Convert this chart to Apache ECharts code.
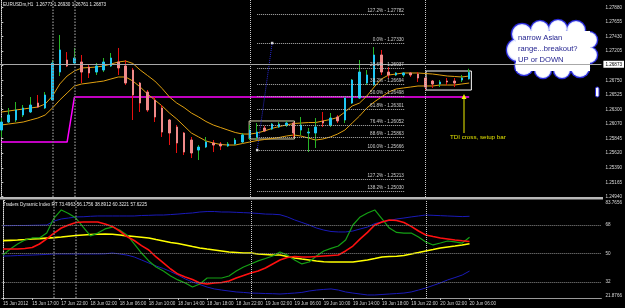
<!DOCTYPE html>
<html>
<head>
<meta charset="utf-8">
<script src="https://cdn.jsdelivr.net/npm/echarts@6/dist/echarts.min.js"></script>
<style>
html,body{margin:0;padding:0;background:#000;}
#chart{width:625px;height:308px;}
</style>
</head>
<body>
<div id="chart"></div>
<script>
// EURUSDm H1 bars, index 0 = 15 Jun 13:00 ... 64 = 20 Jun 06:00
var opens=[1.25977,1.26102,1.26133,1.26211,1.26258,1.26397,1.26320,1.26444,1.26879,1.27066,
 1.27019,1.27035,1.26957,1.26879,1.26910,1.26973,1.27035,1.26973,1.26910,1.26708,
 1.26568,1.26444,1.26320,1.26133,1.26024,1.25931,1.25822,1.25666,1.25713,1.25776,
 1.25760,1.25729,1.25760,1.25791,1.25853,1.25869,1.26009,1.25993,1.26024,1.26055,
 1.26086,1.25977,1.25931,1.25931,1.26118,1.26055,1.26180,1.26133,1.26397,1.26475,
 1.26708,1.26677,1.27144,1.26879,1.26833,1.26833,1.26864,1.26848,1.26786,1.26739,
 1.26693,1.26739,1.26739,1.26755,1.26773];
var closes=[1.26102,1.26211,1.26289,1.26320,1.26366,1.26335,1.26522,1.27019,1.27222,1.26973,
 1.27097,1.26879,1.26864,1.26973,1.27035,1.27097,1.26942,1.26708,1.26522,1.26397,
 1.26289,1.26180,1.25946,1.25931,1.25776,1.25635,1.25620,1.25713,1.25791,1.25744,
 1.25729,1.25760,1.25822,1.25900,1.25977,1.25946,1.25962,1.26071,1.26071,1.26086,
 1.25931,1.26055,1.25946,1.26024,1.26086,1.26164,1.26118,1.26475,1.26755,1.26879,
 1.26833,1.27144,1.26879,1.26833,1.26864,1.26864,1.26833,1.26786,1.26646,1.26693,
 1.26724,1.26724,1.26708,1.26786,1.26873];
var lows=[1.25869,1.26086,1.26102,1.26180,1.26242,1.26320,1.26304,1.26428,1.26817,1.26957,
 1.26988,1.26708,1.26786,1.26833,1.26879,1.26957,1.26833,1.26677,1.26133,1.26258,
 1.26258,1.26102,1.25869,1.25744,1.25620,1.25589,1.25542,1.25511,1.25698,1.25635,
 1.25666,1.25713,1.25744,1.25776,1.25822,1.25822,1.25946,1.25977,1.26009,1.26024,
 1.25853,1.25900,1.25635,1.25698,1.26024,1.26024,1.26086,1.26086,1.26382,1.26460,
 1.26677,1.26662,1.26833,1.26786,1.26817,1.26802,1.26802,1.26724,1.26599,1.26631,
 1.26646,1.26677,1.26646,1.26724,1.26761];
var highs=[1.26164,1.26320,1.26413,1.26366,1.26491,1.26522,1.26568,1.27066,1.27455,1.27190,
 1.27253,1.27144,1.26988,1.27019,1.27097,1.27175,1.27253,1.27066,1.26942,1.26724,
 1.26599,1.26491,1.26366,1.26149,1.26055,1.25946,1.25869,1.25744,1.25869,1.25822,
 1.25791,1.25791,1.25853,1.25931,1.26055,1.26086,1.26040,1.26086,1.26102,1.26118,
 1.26102,1.26180,1.26009,1.26164,1.26258,1.26242,1.26211,1.26491,1.26770,1.27066,
 1.26910,1.27268,1.27222,1.26957,1.26879,1.26879,1.26879,1.26879,1.26802,1.26755,
 1.26755,1.26786,1.26786,1.26833,1.26930];

// two moving averages (orange)
var maUpper=[1.26257,1.26273,1.26289,1.26304,1.26320,1.26335,1.26382,1.26506,1.26693,1.26817,
 1.26895,1.26942,1.26949,1.26957,1.26973,1.27004,1.27035,1.27050,1.27012,1.26910,
 1.26825,1.26739,1.26623,1.26491,1.26397,1.26327,1.26242,1.26180,1.26110,1.26055,
 1.26016,1.25977,1.25939,1.25915,1.25915,1.25931,1.25962,1.26001,1.26032,1.26055,
 1.26079,1.26086,1.26094,1.26094,1.26118,1.26141,1.26172,1.26257,1.26351,1.26397,
 1.26506,1.26646,1.26771,1.26833,1.26848,1.26864,1.26864,1.26864,1.26856,1.26848,
 1.26833,1.26817,1.26810,1.26802,1.26817];
var maLower=[1.26055,1.26071,1.26086,1.26102,1.26133,1.26164,1.26211,1.26320,1.26444,1.26553,
 1.26662,1.26693,1.26708,1.26724,1.26739,1.26771,1.26802,1.26802,1.26739,1.26646,
 1.26537,1.26444,1.26351,1.26242,1.26149,1.26040,1.25931,1.25869,1.25807,1.25776,
 1.25752,1.25744,1.25744,1.25768,1.25791,1.25814,1.25830,1.25845,1.25861,1.25884,
 1.25900,1.25884,1.25853,1.25822,1.25838,1.25869,1.25915,1.25977,1.26086,1.26195,
 1.26320,1.26413,1.26491,1.26568,1.26615,1.26631,1.26646,1.26662,1.26662,1.26662,
 1.26677,1.26677,1.26677,1.26693,1.26708];

// magenta level line: [bar, price]
var levelLine=[[0,1.25790],[9,1.25790],[10,1.26490],[64,1.26490]];

// fibonacci levels
var fibNames=['127.2% - 1.27782','0.0% - 1.27330','23.6% - 1.26937','38.2% - 1.26694','50.0% - 1.26498',
 '61.8% - 1.26301','76.4% - 1.26052','88.6% - 1.25863','100.0% - 1.25666','127.2% - 1.25213','138.2% - 1.25030'];
var fibPrices=[1.27782,1.27330,1.26937,1.26694,1.26498,1.26301,1.26052,1.25863,1.25666,1.25213,1.25030];
var fibAnchors=[[35,1.25666],[37.05,1.27330]];
var bidPrice=1.26873;

var priceTicks=[1.24940,1.25165,1.25390,1.25620,1.25845,1.26070,1.26300,1.26525,1.26750,1.26980,1.27205,1.27430,1.27655,1.27880];

// Traders Dynamic Index
var tdiUpper=[67.6,67.6,67.7,67.7,67.8,67.9,68.0,70.5,71.8,72.4,73.1,73.2,73.5,73.7,73.7,73.7,73.7,73.7,73.7,74.0,
 74.1,74.3,74.3,74.6,74.9,75.3,75.6,76.2,76.5,76.5,76.2,76.2,76.0,75.8,75.6,75.3,74.9,74.8,74.5,73.1,
 71.2,69.6,68.0,66.1,64.8,63.9,63.6,63.6,64.2,65.5,66.7,68.9,69.9,70.8,71.8,72.4,73.1,73.7,74.3,74.1,
 73.9,73.7,73.5,73.3,73.5];
var tdiLower=[48.4,48.5,48.7,48.9,49.0,49.2,49.4,49.7,49.7,49.7,49.7,49.7,49.7,49.7,49.8,50.3,49.7,49.0,47.8,45.9,
 44.0,42.1,40.5,38.6,36.4,33.9,32.0,30.4,28.8,27.6,26.9,26.3,25.7,25.4,25.0,24.9,24.7,24.6,24.4,24.7,
 25.0,25.4,26.3,26.9,27.3,27.6,26.9,25.7,25.0,24.4,23.8,23.8,24.1,24.4,24.7,25.0,25.7,26.9,28.2,29.8,
 31.4,33.3,34.8,36.4,38.9];
var tdiBase=[58.1,58.3,58.5,58.8,59.2,59.4,59.7,60.0,60.4,60.9,61.4,61.7,62.0,62.2,62.3,62.2,61.7,61.1,60.7,60.3,
 59.8,58.8,57.9,56.9,56.3,55.4,54.4,53.5,52.8,52.2,51.6,50.9,50.6,50.3,50.3,49.7,49.4,49.0,49.0,48.1,
 47.2,46.5,45.9,45.3,44.8,44.6,44.6,44.6,44.6,45.3,45.9,46.8,47.8,48.1,48.3,48.7,49.7,50.6,51.6,52.5,
 53.5,54.1,54.7,55.4,56.2];
var tdiSignal=[52.8,52.8,52.8,53.2,53.8,56.0,59.2,62.9,66.1,68.0,69.6,69.9,69.9,69.9,68.6,67.1,64.2,60.7,58.2,55.0,
 52.2,47.8,44.0,40.2,37.0,35.2,33.6,31.4,30.7,31.4,31.7,32.6,34.5,36.1,37.7,38.9,40.8,43.4,45.9,47.5,
 48.1,47.8,47.8,48.1,48.4,48.7,49.0,51.6,54.7,59.2,63.3,68.0,69.9,71.2,70.8,69.6,67.1,64.2,61.7,60.7,
 59.8,59.2,58.5,58.0,57.6];
var tdiRsi=[49.0,52.8,56.0,58.5,59.8,59.8,62.9,72.4,77.5,75.3,72.4,66.7,61.1,62.9,65.5,66.7,64.8,61.7,56.0,50.3,
 45.3,41.5,38.9,35.8,33.3,31.4,28.8,30.7,34.5,34.5,34.5,35.8,38.9,41.5,43.4,45.3,46.8,48.4,50.9,49.0,
 45.9,43.4,44.6,48.4,51.6,53.2,54.7,58.5,68.0,73.1,75.6,77.5,71.8,66.1,63.3,62.9,62.9,60.4,57.3,55.4,
 56.6,57.9,57.3,56.6,60.3];
var tdiLevels=[68,50,32];
var tdiMin=21.88, tdiMax=83.79;

var timeTicks=[0,4,8,12,16,20,24,28,32,36,40,44,48,52,56,60,64];
var timeLabels=['15 Jun 2012','15 Jun 17:00','17 Jun 22:00','18 Jun 02:00','18 Jun 06:00','18 Jun 10:00',
 '18 Jun 14:00','18 Jun 18:00','18 Jun 22:00','19 Jun 02:00','19 Jun 06:00','19 Jun 10:00','19 Jun 14:00',
 '19 Jun 18:00','19 Jun 22:00','20 Jun 02:00','20 Jun 06:00'];
var daySeparators=[7,10,34,58];

function withIndex(arr){
    return arr.map(function(v,i){return [i,v];});
}

var chart=echarts.init(document.getElementById('chart'));
var FONT='Liberation Sans';
var xMin=-0.18, xMax=82.09;

var wickData=opens.map(function(o,i){return [i,o,closes[i],lows[i],highs[i]];});
var bodyData=opens.map(function(o,i){return [i,o,closes[i],Math.min(o,closes[i]),Math.max(o,closes[i])];});

var sepLines=daySeparators.map(function(x,k){
    return {xAxis:x,lineStyle:{color:k<2?'#7a7a7a':'#c8c8c8',width:k<2?1.5:1,type:'dotted'}};
});

var fibLines=fibPrices.map(function(p,k){
    return [{coord:[35,p],name:fibNames[k]},{coord:[55.2,p]}];
});

// cloud callout made of overlapping bubbles (outline first, white fill on top)
var bubbles=[[518,50,11],[522,34,10],[540,30,9],[558,29,9],[576,30,9],[589,40,8],[589,55,8],
    [580,68,9],[562,70,8],[543,70,8],[524,66,9]];
var cloudParts=[];
bubbles.forEach(function(b){
    cloudParts.push({type:'circle',shape:{cx:b[0],cy:b[1],r:b[2]+1.3},style:{fill:'#2a2ad8'}});
});
bubbles.forEach(function(b){
    cloudParts.push({type:'circle',shape:{cx:b[0],cy:b[1],r:b[2]},
        style:{fill:{type:'radial',x:0.5,y:0.5,r:0.5,colorStops:[{offset:0,color:'#ffffff'},{offset:0.82,color:'#ffffff'},{offset:1,color:'#c8d2ff'}]}}});
});
cloudParts.push({type:'rect',shape:{x:516,y:31,width:74,height:40},style:{fill:'#ffffff'}});

var option={
    backgroundColor:'#000',
    animation:false,
    grid:[
        {left:0,right:22,top:0,height:197},
        {left:0,right:22,top:200,height:98}
    ],
    xAxis:[
        {type:'value',gridIndex:0,min:xMin,max:xMax,show:false},
        {type:'value',gridIndex:1,min:xMin,max:xMax,
            axisLine:{show:true,lineStyle:{color:'#9a9a9a'}},
            axisTick:{show:true,customValues:timeTicks,length:2,lineStyle:{color:'#c0c0c0'}},
            splitLine:{show:false},
            axisLabel:{customValues:timeTicks,align:'left',margin:3,fontSize:4.6,fontFamily:FONT,color:'#d0d0d0',
                formatter:function(v){var k=timeTicks.indexOf(Math.round(v));return k<0?'':timeLabels[k];}}
        }
    ],
    yAxis:[
        {type:'value',gridIndex:0,position:'right',min:1.24936,max:1.27999,
            axisLine:{show:true,lineStyle:{color:'#e0e0e0',type:'dotted'}},
            axisTick:{show:true,customValues:priceTicks,length:2,lineStyle:{color:'#c0c0c0'}},
            splitLine:{show:false},
            axisLabel:{customValues:priceTicks,margin:4,fontSize:4.6,fontFamily:FONT,color:'#d8d8d8',
                formatter:function(v){return v.toFixed(5);}}
        },
        {type:'value',gridIndex:1,position:'right',min:tdiMin,max:tdiMax,
            axisLine:{show:true,lineStyle:{color:'#e0e0e0',type:'dotted'}},
            axisTick:{show:true,customValues:[tdiMin,32,50,68,tdiMax],length:2,lineStyle:{color:'#c0c0c0'}},
            splitLine:{show:false},
            axisLabel:{customValues:[tdiMin,32,50,68,tdiMax],margin:4,fontSize:4.6,fontFamily:FONT,color:'#d8d8d8',
                verticalAlignMaxLabel:'top',verticalAlignMinLabel:'bottom',
                formatter:function(v){
                    if(v===tdiMax) return '83.7656';
                    if(v===tdiMin) return '21.8766';
                    return String(v);
                }}
        }
    ],
    series:[
        {
            type:'line',xAxisIndex:0,yAxisIndex:0,data:levelLine,symbol:'none',
            lineStyle:{color:'#ff00ff',width:1.5},z:1,
            markLine:{silent:true,symbol:'none',label:{show:false},data:sepLines}
        },
        {
            type:'line',xAxisIndex:0,yAxisIndex:0,data:[],z:1,
            markLine:{silent:true,symbol:'none',
                lineStyle:{color:'#b4b4b4',type:'dotted',width:1},
                label:{show:true,position:'insideEndTop',distance:1,fontSize:4.6,fontFamily:FONT,color:'#d0d0d0',
                    formatter:function(p){return p.name;}},
                data:fibLines.concat([
                    [{coord:fibAnchors[0],lineStyle:{color:'#2a2ad0',type:'dotted'},label:{show:false}},
                     {coord:fibAnchors[1]}]
                ])
            }
        },
        {
            type:'line',xAxisIndex:0,yAxisIndex:0,data:[],z:1,
            markLine:{silent:true,symbol:'none',
                data:[
                    {yAxis:bidPrice,lineStyle:{color:'#a8a8a8',type:'solid',width:1},
                     label:{show:true,position:'end',distance:2,formatter:bidPrice.toFixed(5),fontSize:4.6,fontFamily:FONT,
                        color:'#000',backgroundColor:'#fff',padding:[1,2]}},
                    {yAxis:1.27985,lineStyle:{color:'#a0a0a0',type:'solid',width:1},label:{show:false}}
                ]
            },
            markArea:{silent:true,
                data:[
                    [{coord:[33.9,1.26118],itemStyle:{color:'rgba(0,0,0,0)',borderColor:'#d8d0a8',borderWidth:1}},{coord:[40.1,1.25838]}],
                    [{coord:[58.1,1.26895],itemStyle:{color:'rgba(0,0,0,0)',borderColor:'#ffffff',borderWidth:1}},{coord:[64.3,1.26599]}]
                ]
            }
        },
        {
            type:'line',xAxisIndex:0,yAxisIndex:0,data:withIndex(maUpper),symbol:'none',
            lineStyle:{color:'#e0a010',width:1},z:2
        },
        {
            type:'line',xAxisIndex:0,yAxisIndex:0,data:withIndex(maLower),symbol:'none',
            lineStyle:{color:'#e0a010',width:1},z:2
        },
        {
            type:'candlestick',xAxisIndex:0,yAxisIndex:0,data:wickData,
            encode:{x:0,y:[1,2,3,4]},barWidth:1,z:3,
            itemStyle:{color:'#26b426',color0:'#e81010',borderColor:'#26b426',borderColor0:'#e81010',borderWidth:1}
        },
        {
            type:'candlestick',xAxisIndex:0,yAxisIndex:0,data:bodyData,
            encode:{x:0,y:[1,2,3,4]},barWidth:2,z:4,
            itemStyle:{color:'#1ec8f5',color0:'#f08a8a',borderColor:'#1ec8f5',borderColor0:'#f08a8a',borderWidth:1}
        },
        {
            type:'scatter',xAxisIndex:0,yAxisIndex:0,data:fibAnchors,symbol:'rect',symbolSize:2.5,
            itemStyle:{color:'#ffffff'},z:5
        },
        {
            type:'line',xAxisIndex:1,yAxisIndex:1,data:withIndex(tdiUpper),symbol:'none',
            lineStyle:{color:'#1a1ab8',width:1},
            markLine:{silent:true,symbol:'none',label:{show:false},
                data:sepLines.concat(tdiLevels.map(function(v){
                    return {yAxis:v,lineStyle:{color:'#8a8a8a',type:'dotted',width:1}};
                }))}
        },
        {
            type:'line',xAxisIndex:1,yAxisIndex:1,data:withIndex(tdiLower),symbol:'none',
            lineStyle:{color:'#1a1ab8',width:1}
        },
        {
            type:'line',xAxisIndex:1,yAxisIndex:1,data:withIndex(tdiBase),symbol:'none',
            lineStyle:{color:'#ffff00',width:1.6}
        },
        {
            type:'line',xAxisIndex:1,yAxisIndex:1,data:withIndex(tdiRsi),symbol:'none',
            lineStyle:{color:'#14a014',width:1.2}
        },
        {
            type:'line',xAxisIndex:1,yAxisIndex:1,data:withIndex(tdiSignal),symbol:'none',
            lineStyle:{color:'#ff1010',width:1.6}
        }
    ],
    graphic:[
        {type:'rect',shape:{x:0,y:197,width:603,height:2.5},style:{fill:'#b8b8b8'},z:10,silent:true},
        {type:'text',x:3,y:2,style:{text:'EURUSDm,H1  1.26773 1.26930 1.26761 1.26873',fill:'#e8e8e8',fontSize:4.6,fontFamily:FONT},z:10},
        {type:'text',x:3,y:202,style:{text:'Traders Dynamic Index RT 73.4963 56.1756 38.8912 60.3221 57.6225',fill:'#e8e8e8',fontSize:4.6,fontFamily:FONT},z:10},
        {type:'group',z:20,children:cloudParts},
        {type:'rect',z:20,shape:{x:595.5,y:87,width:3.5,height:10,r:1.7},style:{fill:'#ffffff',stroke:'#2a2ad8',lineWidth:1}},
        {type:'text',z:21,x:518,y:33,style:{text:'narrow Asian\nrange...breakout?\nUP or DOWN',fill:'#1c1c8c',fontSize:7.6,lineHeight:10.8,fontFamily:FONT}},
        {type:'line',z:20,shape:{x1:464,y1:133,x2:464,y2:97},style:{stroke:'#f0f000',lineWidth:1}},
        {type:'polygon',z:20,shape:{points:[[461.5,99],[466.5,99],[464,94]]},style:{fill:'#f0f000'}},
        {type:'text',z:20,x:450,y:134.5,style:{text:'TDI cross, setup bar',fill:'#e0e000',fontSize:6.2,fontFamily:FONT}}
    ]
};
chart.setOption(option);
</script>
</body>
</html>
